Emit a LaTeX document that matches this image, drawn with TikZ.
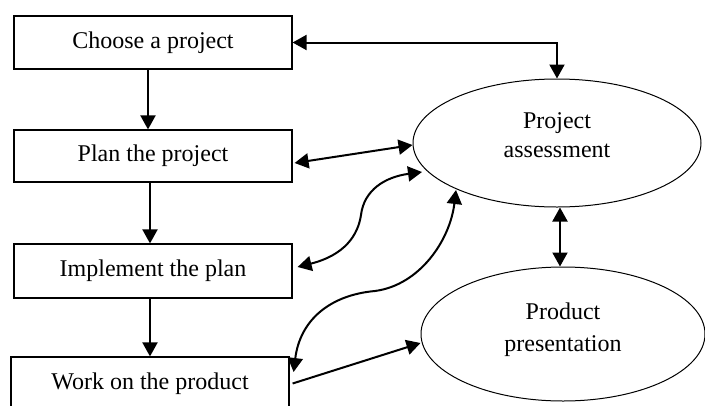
\documentclass[tikz,border=0pt]{standalone}
\usepackage{fontspec}
\setmainfont{Liberation Serif}
\usetikzlibrary{shapes.geometric,arrows.meta,calc}
\begin{document}
\begin{tikzpicture}[x=1pt,y=-1pt,
  font=\fontsize{24}{29}\selectfont,
  stepbox/.style={draw,line width=1.2pt,rectangle,minimum width=278pt,inner sep=0pt},
  oval/.style={draw,line width=1pt,ellipse,inner sep=0pt,align=center},
  conn/.style={line width=2pt},
  dbl/.style={conn,{Triangle[length=14pt,width=15pt]}-{Triangle[length=14pt,width=15pt]}},
  one/.style={conn,-{Triangle[length=14pt,width=15pt]}}]
\clip (0,0) rectangle (705,405);
\fill[white] (0,0) rectangle (705,405);
\node[stepbox,minimum height=53pt] (b1) at (153,42.5) {Choose a project};
\node[stepbox,minimum height=52pt] (b2) at (153,156) {Plan the project};
\node[stepbox,minimum height=54pt] (b3) at (153,271) {Implement the plan};
\node[stepbox,minimum height=53pt] (b4) at (150,383.5) {Work on the product};
\node[oval,minimum width=288pt,minimum height=128pt,text depth=16pt] (pa) at (557,143) {Project\\assessment};
\node[oval,minimum width=284pt,minimum height=134pt,text depth=14pt] (pp) at (563,334) {Product\\[3pt]presentation};
% vertical flow
\draw[one] (b1.south -| 148,0) -- (b2.north -| 148,0);
\draw[one] (b2.south -| 150,0) -- (b3.north -| 150,0);
\draw[one] (b3.south -| 150,0) -- (b4.north -| 150,0);
% links to assessment
\draw[dbl] (b1.east) -| (pa.north);
\draw[dbl] ($(b2.east)+(2,7)$) -- ($(pa.west)+(0,2)$);
\coordinate (c3) at ($(pa.center)+(-135,29)$);
\draw[dbl] ($(b3.east)+(5,-4)$) .. controls (345,255) and (358,235) .. (361,215)
  .. controls (364,190) and (385,177) .. (c3);
\coordinate (c4) at ($(pa.center)+(-101,47)$);
\draw[dbl] ($(b4.east)+(4,-11.5)$) .. controls (300,320) and (330,295) .. (375,291)
  .. controls (420,285) and (450,240) .. (c4);
\draw[one] ($(b4.east)+(3,0)$) -- ($(pp.west)+(0,9)$);
\draw[dbl] ($(pa.south)+(3,0)$) -- ($(pp.north)+(-3,0)$);
\end{tikzpicture}
\end{document}
